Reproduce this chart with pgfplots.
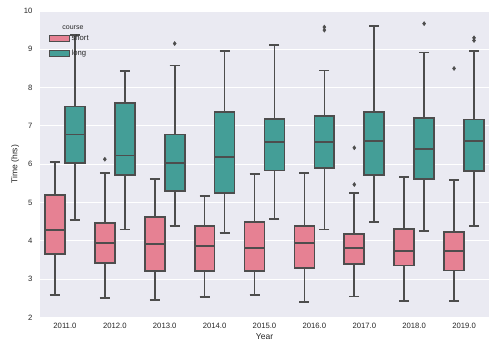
\documentclass[border=0pt]{standalone}
\usepackage{pgfplots}
\pgfplotsset{compat=1.18}
\usepgfplotslibrary{statistics}
\usepackage{fontspec}
\setmainfont{Liberation Sans}
\definecolor{bgc}{HTML}{EAEAF2}
\definecolor{pinkc}{RGB}{230,129,147}
\definecolor{tealc}{RGB}{68,158,151}
\definecolor{edgec}{RGB}{77,77,77}
\definecolor{txtc}{RGB}{38,38,38}
\pgfplotsset{
  boxplot/every box/.style={draw=edgec, line width=1.7pt},
  boxplot/every whisker/.style={draw=edgec, line width=1.7pt},
  boxplot/every median/.style={draw=edgec, line width=1.7pt},
  sbox/.style n args={6}{boxplot prepared={draw position=#1, lower whisker=#2, lower quartile=#3, median=#4, upper quartile=#5, upper whisker=#6, box extend=0.4, whisker extend=0.2, draw direction=y},
    draw=edgec, line width=1.7pt, solid, mark=diamond*, mark size=2pt, mark options={fill=edgec, draw=edgec, line width=0.5pt}},
  sshort/.style={fill=pinkc},
  slong/.style={fill=tealc},
}
\begin{document}
\begin{tikzpicture}
\begin{axis}[
  scale only axis, width=449pt, height=306.5pt,
  xmin=-0.5, xmax=8.5, ymin=2, ymax=10,
  axis background/.style={fill=bgc},
  axis line style={draw=none},
  major tick length=0pt,
  ymajorgrids, grid style={white, line width=0.9pt},
  ytick={2,3,4,5,6,7,8,9,10},
  xtick={0,1,2,3,4,5,6,7,8},
  xticklabels={2011.0,2012.0,2013.0,2014.0,2015.0,2016.0,2017.0,2018.0,2019.0},
  tick label style={font=\fontsize{7.7}{9}\selectfont, text=txtc},
  /pgf/number format/assume math mode=true,
  xlabel={Year}, ylabel={Time (hrs)},
  label style={font=\fontsize{8.5}{10}\selectfont, text=txtc},
  xticklabel style={yshift=-2pt},
  yticklabel style={xshift=-4pt},
  xlabel style={yshift=2pt},
  ylabel style={yshift=-2pt},
  legend style={draw=none, fill=none, at={(0.012,0.935)}, anchor=north west, font=\fontsize{7.7}{9}\selectfont, text=txtc, row sep=3.5pt},
  legend cell align=left,
  legend image code/.code={\draw[#1, line width=1pt] (0pt,-3pt) rectangle (20pt,3pt);},
  clip=false,
]
\addlegendimage{draw=edgec, fill=pinkc}
\addlegendentry{short}
\addlegendimage{draw=edgec, fill=tealc}
\addlegendentry{long}
% 2011
\addplot[sbox={-0.2}{2.59}{3.65}{4.29}{5.20}{6.06}, sshort] coordinates {};
\addplot[sbox={0.2}{4.55}{6.03}{6.78}{7.51}{9.37}, slong] coordinates {};
% 2012
\addplot[sbox={0.8}{2.51}{3.42}{3.95}{4.47}{5.77}, sshort] coordinates {(0,6.13)};
\addplot[sbox={1.2}{4.30}{5.72}{6.23}{7.59}{8.43}, slong] coordinates {};
% 2013
\addplot[sbox={1.8}{2.46}{3.21}{3.91}{4.62}{5.61}, sshort] coordinates {};
\addplot[sbox={2.2}{4.39}{5.30}{6.03}{6.78}{8.58}, slong] coordinates {(0,9.15)};
% 2014
\addplot[sbox={2.8}{2.54}{3.21}{3.86}{4.38}{5.17}, sshort] coordinates {};
\addplot[sbox={3.2}{4.21}{5.25}{6.19}{7.36}{8.95}, slong] coordinates {};
% 2015
\addplot[sbox={3.8}{2.59}{3.21}{3.82}{4.50}{5.75}, sshort] coordinates {};
\addplot[sbox={4.2}{4.57}{5.84}{6.58}{7.18}{9.11}, slong] coordinates {};
% 2016
\addplot[sbox={4.8}{2.41}{3.30}{3.95}{4.38}{5.77}, sshort] coordinates {};
\addplot[sbox={5.2}{4.30}{5.90}{6.58}{7.26}{8.45}, slong] coordinates {(0,9.50) (0,9.58)};
% 2017
\addplot[sbox={5.8}{2.55}{3.39}{3.82}{4.18}{5.25}, sshort] coordinates {(0,5.47) (0,6.43)};
\addplot[sbox={6.2}{4.50}{5.72}{6.61}{7.37}{9.61}, slong] coordinates {};
% 2018
\addplot[sbox={6.8}{2.43}{3.36}{3.74}{4.31}{5.67}, sshort] coordinates {};
\addplot[sbox={7.2}{4.26}{5.61}{6.39}{7.21}{8.92}, slong] coordinates {(0,9.67)};
% 2019
\addplot[sbox={7.8}{2.43}{3.23}{3.74}{4.23}{5.59}, sshort] coordinates {(0,8.50)};
\addplot[sbox={8.2}{4.39}{5.83}{6.61}{7.17}{8.96}, slong] coordinates {(0,9.23) (0,9.30)};
\node[anchor=west, font=\fontsize{7}{8}\selectfont, text=txtc] at (axis description cs:0.042,0.947) {course};
\end{axis}
\path[use as bounding box] ([xshift=-40pt,yshift=-38.5pt]current axis.south west) rectangle ([xshift=3pt,yshift=11pt]current axis.north east);
\end{tikzpicture}
\end{document}
